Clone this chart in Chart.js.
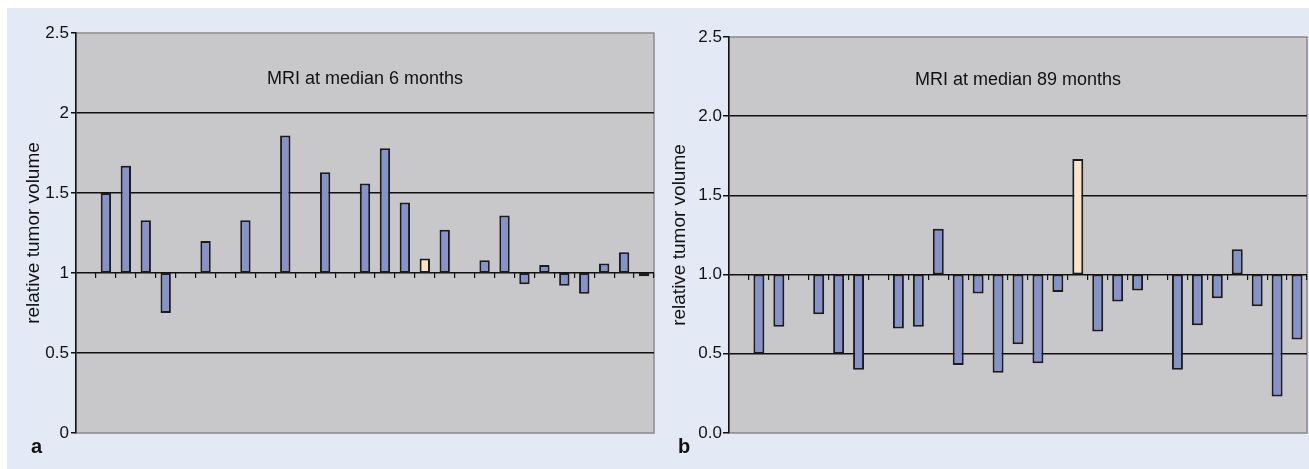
<!DOCTYPE html>
<html>
<head>
<meta charset="utf-8">
<script src="https://cdn.jsdelivr.net/npm/chart.js@4.4.1/dist/chart.umd.min.js"></script>
<style>
  html, body { margin: 0; padding: 0; background: #ffffff; }
  body { width: 1309px; height: 469px; position: relative; overflow: hidden; }
  .panel-bg { position: absolute; left: 7px; top: 8px; right: 0; bottom: 0; background: #e4eaf5; }
  canvas { position: absolute; top: 0; }
  #chartA { left: 0; }
  #chartB { left: 655px; }
  .tag { position: absolute; font: bold 20px "Liberation Sans", Arial, sans-serif; line-height: 20px; color: #111; }
</style>
</head>
<body>
<div class="panel-bg"></div>
<canvas id="chartA" width="655" height="469"></canvas>
<canvas id="chartB" width="654" height="469"></canvas>
<div class="tag" style="left:31px; top:436px;">a</div>
<div class="tag" style="left:678px; top:436px;">b</div>
<script>
// patients (29 slots on the x axis, some without a measurement)
const patients = ['1', '2', '3', '4', '5', '6', '7', '8', '9', '10', '11', '12', '13', '14', '15',
  '16', '17', '18', '19', '20', '21', '22', '23', '24', '25', '26', '27', '28', '29'];

// relative tumor volume, MRI at median 6 months
const volumeAt6 = [null, 1.50, 1.67, 1.33, 0.75, null, 1.20, null, 1.33, null, 1.86, null, 1.63, null, 1.56,
  1.78, 1.44, 1.09, 1.27, null, 1.08, 1.36, 0.93, 1.05, 0.92, 0.87, 1.06, 1.13, 0.98];

// relative tumor volume, MRI at median 89 months
const volumeAt89 = [null, 0.50, 0.67, null, 0.75, 0.50, 0.40, null, 0.66, 0.67, 1.29, 0.43, 0.88, 0.38, 0.56,
  0.44, 0.89, 1.73, 0.64, 0.83, 0.90, null, 0.40, 0.68, 0.85, 1.16, 0.80, 0.23, 0.59];

const yTicks = [0, 0.5, 1, 1.5, 2, 2.5];
const highlighted = '18';
const baseline = 1;

const BAR_COLOR = '#8593ca';
const HIGHLIGHT_COLOR = '#fde4c7';
const PLOT_BG = '#c8c8ca';

Chart.defaults.font.family = '"Liberation Sans", Arial, sans-serif';
Chart.defaults.color = '#111';

const plotArea = {
  id: 'plotArea',
  beforeDraw(chart) {
    const { ctx, chartArea: a } = chart;
    ctx.save();
    ctx.fillStyle = PLOT_BG;
    ctx.fillRect(a.left, a.top, a.right - a.left, a.bottom - a.top);
    ctx.strokeStyle = '#8a8a8a';
    ctx.lineWidth = 1.5;
    ctx.strokeRect(a.left, a.top, a.right - a.left, a.bottom - a.top);
    ctx.restore();
  },
  afterDraw(chart, args, opts) {
    const { ctx, chartArea: a } = chart;
    ctx.save();
    ctx.font = '18px "Liberation Sans", Arial, sans-serif';
    ctx.fillStyle = '#111';
    ctx.textAlign = 'center';
    ctx.textBaseline = 'middle';
    ctx.fillText(opts.text, (a.left + a.right) / 2, chart.scales.y.getPixelForValue(opts.level));
    ctx.restore();
  },
};

function makeChart(id, values, title, opts) {
  return new Chart(document.getElementById(id), {
    type: 'bar',
    data: {
      labels: patients,
      datasets: [{
        data: values.map(v => (v == null ? null : [baseline, v])),
        backgroundColor: patients.map(p => (p === highlighted ? HIGHLIGHT_COLOR : BAR_COLOR)),
        borderColor: '#1c1c1c',
        borderWidth: 2,
        borderSkipped: false,
        categoryPercentage: 1,
        barPercentage: opts.barPercentage,
      }],
    },
    options: {
      responsive: false,
      animation: false,
      layout: { padding: opts.padding },
      plugins: {
        legend: { display: false },
        tooltip: { enabled: false },
        plotArea: { text: title, level: opts.titleLevel },
      },
      scales: {
        x: {
          type: 'category',
          position: { y: baseline },
          offset: true,
          ticks: { display: false },
          border: { display: false },
          grid: {
            offset: true,
            drawOnChartArea: false,
            drawTicks: true,
            tickLength: 5,
            color: '#111',
            lineWidth: 1.2,
          },
        },
        y: {
          min: 0,
          max: 2.5,
          afterBuildTicks: s => { s.ticks = yTicks.map(v => ({ value: v })); },
          afterFit: s => { s.width = opts.axisWidth; },
          ticks: {
            padding: opts.tickPadding,
            font: { size: 17 },
            callback: opts.tickFormat,
          },
          border: { display: true, color: '#111', width: 1.5 },
          grid: {
            color: c => (c.tick && (c.tick.value === 0 || c.tick.value === 2.5) ? 'rgba(0,0,0,0)' : '#111'),
            tickColor: '#111',
            lineWidth: 1.5,
            tickLength: opts.tickLength,
          },
          title: {
            display: true,
            text: 'relative tumor volume',
            font: { size: 19 },
            padding: { top: 2, bottom: 0 },
          },
        },
      },
    },
    plugins: [plotArea],
  });
}

makeChart('chartA', volumeAt6, 'MRI at median 6 months', {
  padding: { left: 20, top: 33, right: 1, bottom: 36 },
  axisWidth: 56,
  tickPadding: 2,
  tickLength: 5,
  barPercentage: 0.52,
  titleLevel: 2.21,
  tickFormat: v => String(v),
});

makeChart('chartB', volumeAt89, 'MRI at median 89 months', {
  padding: { left: 11, top: 37, right: 2, bottom: 36 },
  axisWidth: 63,
  tickPadding: 1,
  tickLength: 6,
  barPercentage: 0.55,
  titleLevel: 2.23,
  tickFormat: v => v.toFixed(1),
});
</script>
</body>
</html>
